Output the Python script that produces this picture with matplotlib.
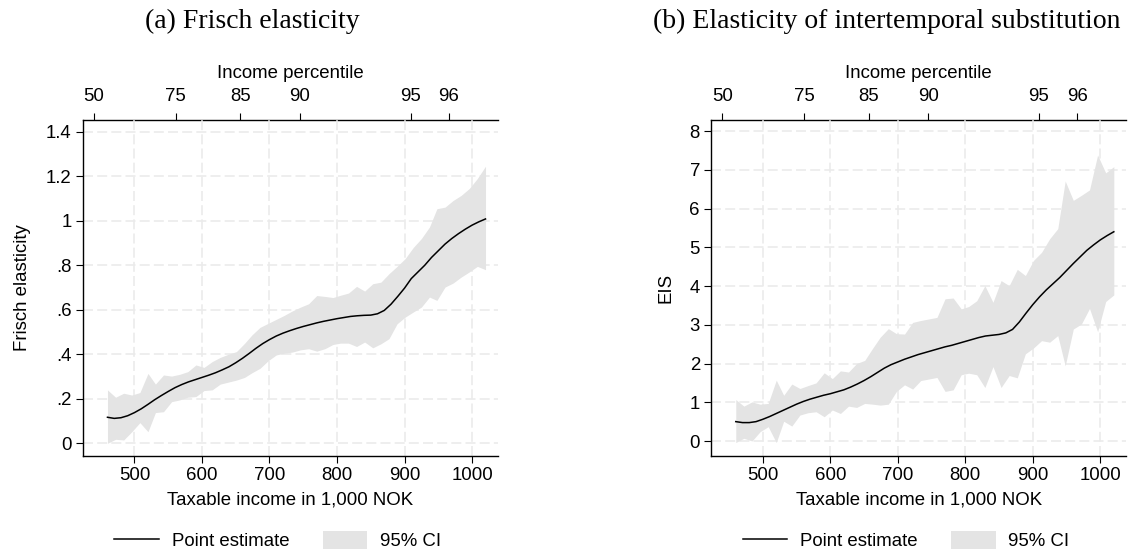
import matplotlib
matplotlib.use("Agg")
import matplotlib.pyplot as plt
from matplotlib.lines import Line2D
from matplotlib.patches import Patch

plt.rcParams["font.family"] = ["Liberation Sans", "DejaVu Sans"]

# income grid (1,000 NOK) for the smoothed point estimate
line_x = list(range(460, 1021, 10))
frisch_est = [0.117, 0.112, 0.115, 0.124, 0.138, 0.155, 0.175, 0.196, 0.215, 0.233,
              0.250, 0.264, 0.276, 0.286, 0.296, 0.306, 0.317, 0.330, 0.344, 0.362,
              0.382, 0.404, 0.427, 0.448, 0.466, 0.482, 0.495, 0.506, 0.516, 0.525,
              0.533, 0.541, 0.548, 0.554, 0.560, 0.565, 0.570, 0.573, 0.575, 0.576,
              0.582, 0.597, 0.625, 0.660, 0.697, 0.740, 0.770, 0.800, 0.835, 0.865,
              0.895, 0.920, 0.942, 0.962, 0.980, 0.995, 1.008]
eis_est = [0.50, 0.475, 0.475, 0.50, 0.56, 0.63, 0.71, 0.79, 0.87, 0.95,
           1.02, 1.08, 1.13, 1.18, 1.22, 1.27, 1.32, 1.39, 1.47, 1.56,
           1.66, 1.77, 1.88, 1.97, 2.04, 2.11, 2.17, 2.23, 2.28, 2.33,
           2.38, 2.43, 2.47, 2.52, 2.57, 2.62, 2.67, 2.71, 2.73, 2.75,
           2.79, 2.88, 3.07, 3.30, 3.52, 3.72, 3.90, 4.06, 4.22, 4.40,
           4.58, 4.75, 4.92, 5.06, 5.19, 5.30, 5.40]

# income bins for the confidence band
band_x = [460, 472, 484, 496, 508, 520, 531, 543, 555, 567, 579, 591, 603, 615, 627, 639,
          651, 663, 674, 686, 698, 710, 722, 734, 746, 758, 770, 782, 794, 805, 817, 829,
          841, 853, 865, 877, 889, 901, 913, 925, 937, 948, 960, 972, 984, 996, 1008, 1020]
frisch_lo = [0.000, 0.018, 0.015, 0.052, 0.093, 0.052, 0.138, 0.142, 0.187, 0.195, 0.207, 0.210,
             0.237, 0.240, 0.266, 0.275, 0.284, 0.296, 0.317, 0.337, 0.371, 0.397, 0.405, 0.410,
             0.420, 0.425, 0.414, 0.425, 0.444, 0.450, 0.450, 0.435, 0.455, 0.429, 0.447, 0.470,
             0.537, 0.567, 0.590, 0.612, 0.657, 0.642, 0.702, 0.720, 0.747, 0.770, 0.795, 0.780]
frisch_hi = [0.240, 0.207, 0.225, 0.217, 0.228, 0.314, 0.266, 0.307, 0.302, 0.310, 0.322, 0.352,
             0.341, 0.367, 0.386, 0.400, 0.412, 0.449, 0.487, 0.521, 0.539, 0.557, 0.575, 0.595,
             0.612, 0.627, 0.664, 0.660, 0.655, 0.665, 0.675, 0.705, 0.684, 0.717, 0.724, 0.762,
             0.795, 0.830, 0.880, 0.920, 0.972, 1.054, 1.061, 1.091, 1.114, 1.145, 1.190, 1.245]
eis_lo = [-0.04, 0.07, 0.00, 0.24, 0.37, -0.04, 0.51, 0.385, 0.67, 0.73, 0.755, 0.626,
          0.80, 0.71, 0.90, 0.866, 0.97, 0.95, 0.926, 0.95, 1.28, 1.45, 1.34, 1.56,
          1.60, 1.64, 1.28, 1.32, 1.71, 1.75, 1.71, 1.38, 1.92, 1.38, 1.69, 1.63,
          2.25, 2.40, 2.59, 2.55, 2.72, 1.94, 2.89, 3.02, 3.42, 2.82, 3.60, 3.77]
eis_hi = [1.07, 0.90, 1.01, 0.95, 0.97, 1.57, 1.18, 1.47, 1.355, 1.43, 1.50, 1.76,
          1.61, 1.81, 1.78, 2.00, 2.08, 2.40, 2.68, 2.90, 2.77, 2.76, 3.06, 3.11,
          3.15, 3.19, 3.67, 3.69, 3.41, 3.47, 3.62, 4.01, 3.58, 4.14, 4.01, 4.43,
          4.27, 4.66, 4.87, 5.22, 5.48, 6.71, 6.21, 6.34, 6.48, 7.38, 6.92, 7.08]

income_ticks = [500, 600, 700, 800, 900, 1000]
pct_income = [440, 561, 657, 745, 909, 966]
pct_labels = ["50", "75", "85", "90", "95", "96"]
frisch_ticks = [0, 0.2, 0.4, 0.6, 0.8, 1.0, 1.2, 1.4]
frisch_labels = ["0", ".2", ".4", ".6", ".8", "1", "1.2", "1.4"]
eis_ticks = [0, 1, 2, 3, 4, 5, 6, 7, 8]
eis_labels = ["0", "1", "2", "3", "4", "5", "6", "7", "8"]

W, H = 1141, 555
BAND = "#e4e4e4"
GRID = "#ebebeb"
FS = 13.4


def draw_panel(fig, left_px, est, lo, hi, ticks, labels, ylim, ylabel, title, title_px):
    ax = fig.add_axes([left_px / W, 1 - 456 / H, 415.3 / W, 336 / H])
    ax.fill_between(band_x, lo, hi, color=BAND, lw=0, zorder=2)
    ax.plot(line_x, est, color="black", lw=1.1, zorder=3)
    ax.set_xlim(423.3, 1038.5)
    ax.set_ylim(*ylim)
    ax.set_xticks(income_ticks)
    ax.set_yticks(ticks, labels)
    ax.grid(True, color=GRID, lw=1.2, ls=(0, (6, 2.5)), zorder=0)
    ax.spines["right"].set_visible(False)
    ax.spines["top"].set_visible(False)
    for s in ("left", "bottom"):
        ax.spines[s].set_linewidth(1.0)
    ax.tick_params(axis="both", length=5, width=0.8, labelsize=FS, direction="out")
    ax.tick_params(axis="x", pad=3)
    ax.tick_params(axis="y", pad=3)
    ax.set_xlabel("Taxable income in 1,000 NOK", fontsize=FS, labelpad=5)
    ax.set_ylabel(ylabel, fontsize=FS, labelpad=11)

    top = ax.secondary_xaxis("top")
    top.set_xticks(pct_income, pct_labels)
    top.tick_params(length=5, width=0.8, labelsize=FS, pad=6)
    top.spines["top"].set_linewidth(1.0)
    top.set_xlabel("Income percentile", fontsize=FS, labelpad=7)

    fig.text(title_px / W, 1 - 27.5 / H, title, ha="center", va="baseline",
             fontsize=20, family=["Liberation Serif", "DejaVu Serif"])

    handles = [Line2D([], [], color="black", lw=1.1),
               Patch(facecolor=BAND, edgecolor="none")]
    ax.legend(handles, ["Point estimate", "95% CI"], loc="center left",
              bbox_to_anchor=((left_px + 31.6) / W, 1 - 540.7 / H),
              bbox_transform=fig.transFigure, ncol=2, frameon=False,
              borderpad=0, borderaxespad=0, handlelength=2.4, handleheight=1.1,
              handletextpad=0.68, columnspacing=1.8, fontsize=FS)
    return ax


fig = plt.figure(figsize=(W / 100, H / 100), dpi=100)
draw_panel(fig, 82.7, frisch_est, frisch_lo, frisch_hi, frisch_ticks, frisch_labels,
           (-0.057, 1.4526), "Frisch elasticity", "(a) Frisch elasticity", 252.6)
draw_panel(fig, 711, eis_est, eis_lo, eis_hi, eis_ticks, eis_labels,
           (-0.387, 8.284), "EIS", "(b) Elasticity of intertemporal substitution", 887)
fig.savefig("out.png", dpi=100)
